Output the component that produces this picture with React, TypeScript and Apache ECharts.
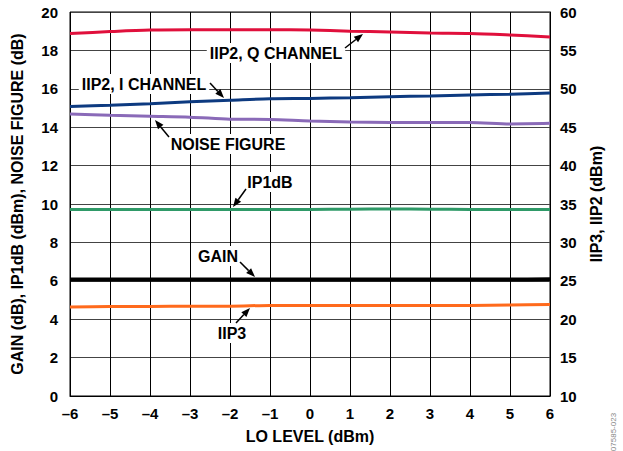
import React, { useEffect, useRef } from "react";
import * as echarts from "echarts";

const loLevel = [-6, -5, -4, -3, -2, -1, 0, 1, 2, 3, 4, 5, 6];
const iip2Q = [57.2, 57.45, 57.65, 57.7, 57.7, 57.7, 57.65, 57.5, 57.4, 57.25, 57.2, 57.0, 56.75];
const iip2I = [47.7, 47.85, 48.05, 48.3, 48.5, 48.7, 48.75, 48.85, 48.97, 49.06, 49.2, 49.3, 49.45];
const noiseFigure = [14.69, 14.62, 14.57, 14.52, 14.42, 14.4, 14.32, 14.27, 14.25, 14.24, 14.25, 14.17, 14.2];
const ip1dB = [9.72, 9.72, 9.72, 9.72, 9.72, 9.72, 9.72, 9.73, 9.74, 9.73, 9.72, 9.72, 9.72];
const gain = [6.07, 6.07, 6.07, 6.07, 6.07, 6.07, 6.07, 6.07, 6.07, 6.07, 6.07, 6.07, 6.08];
const iip3 = [21.6, 21.65, 21.65, 21.7, 21.7, 21.8, 21.8, 21.8, 21.8, 21.8, 21.8, 21.85, 21.9];

const FONT = "Liberation Sans, Arial, sans-serif";

function pairs(vals: number[]) {
  return loLevel.map((x, i) => [x, vals[i]]);
}

function label(text: string, x: number, y: number) {
  return {
    type: "text",
    x,
    y,
    z: 100,
    style: {
      text,
      font: `bold 16px ${FONT}`,
      fill: "#000",
      backgroundColor: "#fff",
      padding: [2, 3, 2, 3],
      align: "center",
      verticalAlign: "middle",
    },
  };
}

function arrow(x1: number, y1: number, x2: number, y2: number) {
  const ang = Math.atan2(y2 - y1, x2 - x1);
  const L = 9;
  const W = 3.5;
  const bx = x2 - L * Math.cos(ang);
  const by = y2 - L * Math.sin(ang);
  const px = -Math.sin(ang) * W;
  const py = Math.cos(ang) * W;
  return [
    {
      type: "line",
      z: 101,
      shape: { x1, y1, x2: bx, y2: by },
      style: { stroke: "#000", lineWidth: 1.5 },
    },
    {
      type: "polygon",
      z: 101,
      shape: {
        points: [
          [x2, y2],
          [bx + px, by + py],
          [bx - px, by - py],
        ],
      },
      style: { fill: "#000" },
    },
  ];
}

export default function App() {
  const ref = useRef<HTMLDivElement>(null);
  useEffect(() => {
    if (!ref.current) return;
    const chart = echarts.init(ref.current, undefined, { renderer: "svg" });
    const lineSeries = (name: string, data: number[], color: string, yAxisIndex: number, width = 3) => ({
      name,
      type: "line",
      yAxisIndex,
      data: pairs(data),
      showSymbol: false,
      smooth: 0.3,
      lineStyle: { color, width },
      itemStyle: { color },
      z: 5,
    });
    const titleStyle = { fontFamily: FONT, fontWeight: "bold", fontSize: 16, color: "#000" };
    const tickStyle = { fontFamily: FONT, fontWeight: "bold", fontSize: 15, color: "#000" };
    chart.setOption({
      animation: false,
      backgroundColor: "#fff",
      grid: {
        left: 70,
        right: 73,
        top: 12,
        bottom: 55,
        show: true,
        borderColor: "#000",
        borderWidth: 1,
      },
      xAxis: {
        type: "value",
        min: -6,
        max: 6,
        interval: 1,
        name: "LO LEVEL (dBm)",
        nameLocation: "middle",
        nameGap: 32,
        nameTextStyle: titleStyle,
        axisLine: { show: true, lineStyle: { color: "#000" } },
        axisTick: { show: false },
        axisLabel: {
          ...tickStyle,
          margin: 10,
          formatter: (v: number) => String(v).replace("-", "\u2013"),
        },
        splitLine: { show: true, lineStyle: { color: "#000", width: 1 } },
      },
      yAxis: [
        {
          type: "value",
          min: 0,
          max: 20,
          interval: 2,
          name: "GAIN (dB), IP1dB (dBm), NOISE FIGURE (dB)",
          nameLocation: "middle",
          nameGap: 45,
          nameTextStyle: titleStyle,
          axisLine: { show: true, lineStyle: { color: "#000" } },
          axisTick: { show: false },
          axisLabel: { ...tickStyle, margin: 12 },
          splitLine: { show: true, lineStyle: { color: "#444", width: 1 } },
        },
        {
          type: "value",
          min: 10,
          max: 60,
          interval: 5,
          position: "right",
          name: "IIP3, IIP2 (dBm)",
          nameLocation: "middle",
          nameGap: 38,
          nameTextStyle: titleStyle,
          axisLine: { show: true, lineStyle: { color: "#000" } },
          axisTick: { show: false },
          axisLabel: { ...tickStyle, margin: 10 },
          splitLine: { show: false },
        },
      ],
      series: [
        lineSeries("IIP2, Q CHANNEL", iip2Q, "#e0103c", 1),
        lineSeries("IIP2, I CHANNEL", iip2I, "#0d3a80", 1),
        lineSeries("NOISE FIGURE", noiseFigure, "#8a6ab8", 0),
        lineSeries("IP1dB", ip1dB, "#2f9a68", 0),
        lineSeries("GAIN", gain, "#000000", 0, 4),
        lineSeries("IIP3", iip3, "#ff6a1c", 1),
      ],
      graphic: [
        label("IIP2, Q CHANNEL", 276, 53),
        ...arrow(345, 48, 363, 34),
        label("IIP2, I CHANNEL", 144, 84),
        ...arrow(210, 83, 224, 98),
        label("NOISE FIGURE", 228, 144),
        ...arrow(169, 137, 155, 120),
        label("IP1dB", 270, 182),
        ...arrow(246, 189, 233, 207),
        label("GAIN", 218, 256),
        ...arrow(240, 262, 255, 277),
        label("IIP3", 232, 333),
        ...arrow(236, 323, 250, 308),
        {
          type: "text",
          x: 613,
          y: 432,
          rotation: Math.PI / 2,
          style: {
            text: "07585-023",
            font: `8px ${FONT}`,
            fill: "#888",
            align: "center",
            verticalAlign: "middle",
          },
        },
      ],
    });
    return () => chart.dispose();
  }, []);
  return <div ref={ref} style={{ width: 623, height: 451, position: "absolute", left: 0, top: 0 }} />;
}
